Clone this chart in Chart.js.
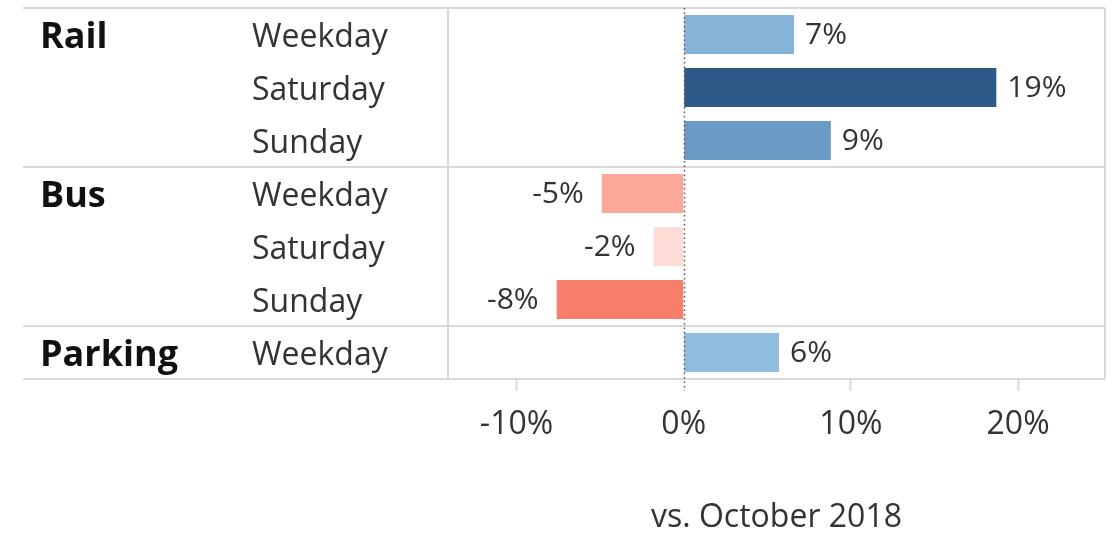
<!DOCTYPE html>
<html><head><meta charset="utf-8">
<script src="https://cdn.jsdelivr.net/npm/chart.js@4/dist/chart.umd.min.js"></script>
<style>html,body{margin:0;padding:0;background:#fff}#wrap{width:1112px;height:534px}</style>
</head><body><div id="wrap"><canvas id="c" width="1112" height="534"></canvas></div>
<script>
const groups = ['Rail','Rail','Rail','Bus','Bus','Bus','Parking'];
const dayTypes = ['Weekday','Saturday','Sunday','Weekday','Saturday','Sunday','Weekday'];
const changePct = [6.6, 18.7, 8.8, -4.9, -1.8, -7.6, 5.7];
const barColors = ['#85b4d8','#2d5986','#6a9bc4','#fca898','#fddcd8','#f67e6a','#8ebde0'];
const xTickValues = [-10, 0, 10, 20];
const xAxisTitle = 'vs. October 2018';

const FONT = "'Open Sans', 'Noto Sans', sans-serif";
const GRID = '#d9d9d9';
const TEXT = '#333333';

const decor = {
  id: 'decor',
  beforeDatasetsDraw(chart) {
    const {ctx, chartArea: a, scales: {y}} = chart;
    ctx.save();
    ctx.strokeStyle = GRID;
    ctx.lineWidth = 2;
    const hs = [a.top, a.bottom];
    for (let i = 1; i < groups.length; i++) {
      if (groups[i] !== groups[i-1]) hs.push((y.getPixelForValue(i-1) + y.getPixelForValue(i)) / 2);
    }
    ctx.beginPath();
    hs.forEach(h => { ctx.moveTo(23, h); ctx.lineTo(a.right, h); });
    ctx.moveTo(a.left, a.top); ctx.lineTo(a.left, a.bottom);
    ctx.moveTo(a.right, a.top); ctx.lineTo(a.right, a.bottom);
    ctx.stroke();
    ctx.restore();
  },
  afterDatasetsDraw(chart) {
    const {ctx, chartArea: a, scales: {x, y}} = chart;
    ctx.save();
    // zero line
    const x0 = Math.round(x.getPixelForValue(0)) + 0.5;
    ctx.strokeStyle = '#555';
    ctx.lineWidth = 1.5;
    ctx.setLineDash([1.5, 3]);
    ctx.beginPath();
    ctx.moveTo(x0, a.top); ctx.lineTo(x0, a.bottom + 12);
    ctx.stroke();
    ctx.setLineDash([]);
    // row labels
    ctx.textBaseline = 'middle';
    ctx.textAlign = 'left';
    for (let i = 0; i < dayTypes.length; i++) {
      const py = y.getPixelForValue(i) + 3;
      ctx.fillStyle = TEXT;
      ctx.font = "32px " + FONT;
      ctx.fillText(dayTypes[i], 252, py);
      if (i === 0 || groups[i] !== groups[i-1]) {
        ctx.fillStyle = '#111';
        ctx.font = "bold 36px " + FONT;
        ctx.fillText(groups[i], 40, py);
      }
    }
    // data labels
    ctx.font = "30px " + FONT;
    ctx.fillStyle = TEXT;
    changePct.forEach((v, i) => {
      const px = x.getPixelForValue(v);
      const py = y.getPixelForValue(i) + 1;
      const t = Math.round(v) + '%';
      if (v >= 0) { ctx.textAlign = 'left'; ctx.fillText(t, px + 11, py); }
      else { ctx.textAlign = 'right'; ctx.fillText(t, px - 18, py); }
    });
    ctx.restore();
  }
};

new Chart(document.getElementById('c'), {
  type: 'bar',
  data: {
    labels: groups.map((g, i) => g + ' ' + dayTypes[i]),
    datasets: [{
      data: changePct,
      backgroundColor: barColors,
      borderWidth: 0,
      barPercentage: 0.74,
      categoryPercentage: 1
    }]
  },
  options: {
    responsive: false,
    devicePixelRatio: 1,
    animation: false,
    indexAxis: 'y',
    layout: {padding: {top: 8, right: 7, bottom: 0, left: 0}},
    plugins: {legend: {display: false}, tooltip: {enabled: false}},
    scales: {
      y: {
        type: 'category',
        grid: {display: false},
        border: {display: false},
        ticks: {display: false},
        afterFit(s) { s.width = 448; }
      },
      x: {
        min: -14.1,
        max: 25.2,
        afterBuildTicks(s) { s.ticks = xTickValues.map(v => ({value: v})); },
        afterFit(s) { s.height = 155; },
        border: {display: false},
        grid: {
          drawOnChartArea: false,
          drawTicks: true,
          tickLength: 12,
          tickWidth: 2,
          tickColor: (c) => (c.tick && c.tick.value === 0) ? 'rgba(0,0,0,0)' : GRID
        },
        ticks: {
          autoSkip: false,
          maxRotation: 0,
          padding: 15,
          color: TEXT,
          font: {family: FONT, size: 32},
          callback: (v) => v + '%'
        },
        title: {
          display: true,
          text: xAxisTitle,
          color: TEXT,
          font: {family: FONT, size: 32, lineHeight: 1.0},
          padding: {top: 0, bottom: 0}
        }
      }
    }
  },
  plugins: [decor]
});
</script>
</body></html>
